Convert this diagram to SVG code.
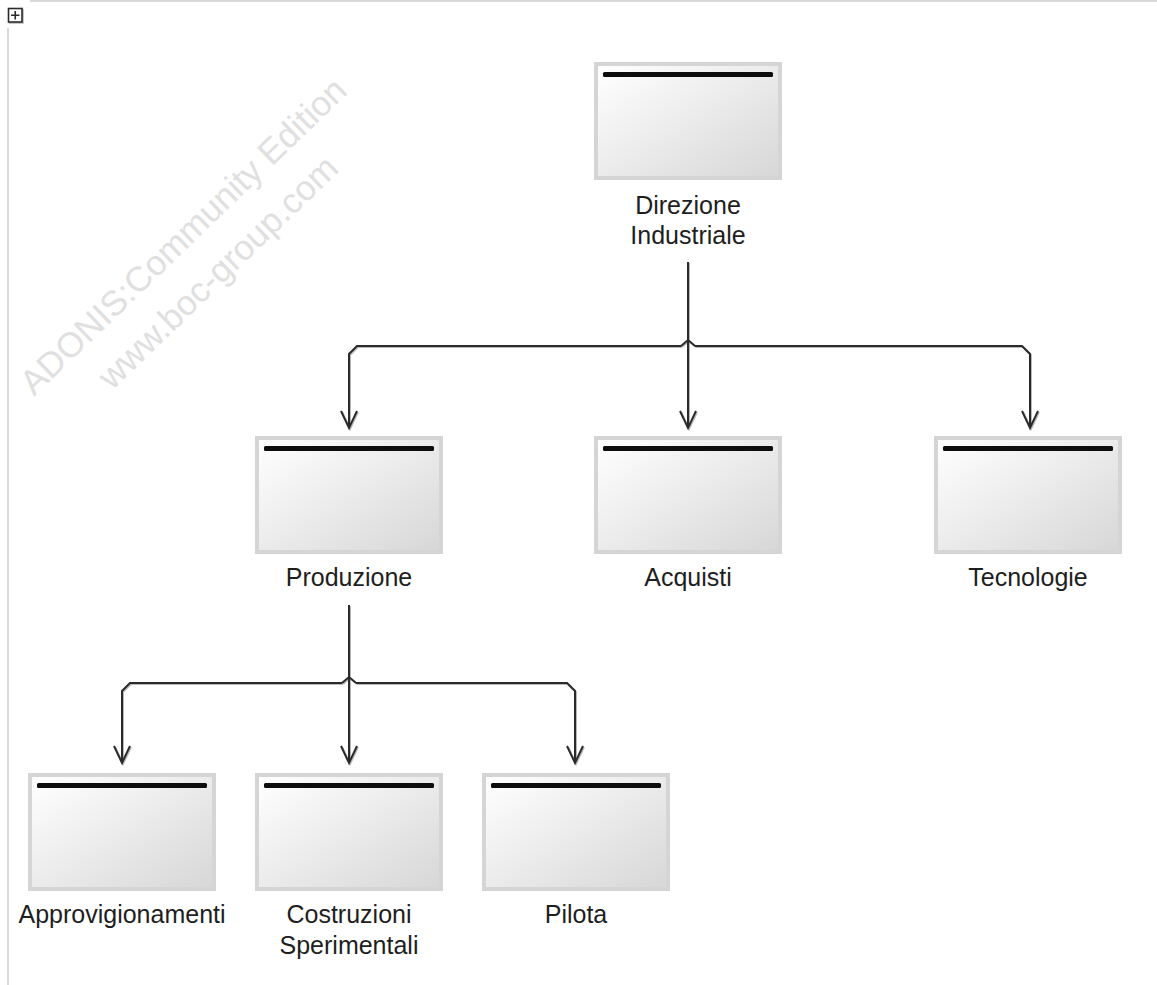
<svg xmlns="http://www.w3.org/2000/svg" width="1157" height="985" viewBox="0 0 1157 985">
  <style>
    .frame { fill: none; stroke: #d9d9d9; stroke-width: 2; }
    .box-edge { fill: #d5d5d5; }
    .box-face { fill: url(#faceGrad); }
    .box-bar { fill: #0d0d0d; }
    .label { font-family: "Liberation Sans", Arial, sans-serif; font-size: 25px; fill: #1e1e1e; text-anchor: middle; }
    .mark { font-family: "Liberation Sans", Arial, sans-serif; font-size: 35px; fill: #e0e0e0; text-anchor: middle; }
    .conn { fill: none; stroke: #2b2b2b; stroke-width: 2; stroke-linejoin: miter; }
    .icon { fill: #ffffff; stroke: #2b2b2b; stroke-width: 1.6; }
  </style>
  <defs>
    <linearGradient id="faceGrad" x1="0" y1="0" x2="1" y2="1">
      <stop offset="0" stop-color="#ffffff"/>
      <stop offset="1" stop-color="#d7d7d7"/>
    </linearGradient>
    <filter id="soft" x="-10%" y="-10%" width="120%" height="120%">
      <feDropShadow dx="1" dy="1" stdDeviation="0.7" flood-color="#000000" flood-opacity="0.28"/>
    </filter>
    <marker id="openArrow" markerUnits="userSpaceOnUse" orient="auto" refX="0" refY="0" markerWidth="40" markerHeight="40" overflow="visible">
      <path d="M-17,-8 L0,0 L-17,8" fill="none" stroke="#2b2b2b" stroke-width="2"/>
    </marker>
  </defs>

  <rect width="1157" height="985" fill="#ffffff"/>

  <!-- canvas frame and expand icon -->
  <g id="frame">
    <line class="frame" x1="8" y1="28" x2="8" y2="985"/>
    <line class="frame" x1="30" y1="1" x2="1157" y2="1" stroke-width="1.5"/>
    <rect class="icon" x="8.5" y="8.5" width="13.5" height="13.5" filter="url(#soft)"/>
    <path d="M11,15.25 H19.5 M15.25,11 V19.5" stroke="#2b2b2b" stroke-width="1.6" fill="none"/>
  </g>

  <!-- watermark -->
  <g id="watermark" transform="translate(183,236) rotate(-44)">
    <text class="mark" x="0" y="12">ADONIS:Community Edition</text>
    <text class="mark" x="0" y="62">www.boc-group.com</text>
  </g>

  <!-- connectors -->
  <g id="connectors" filter="url(#soft)">
    <path class="conn" d="M688,262 V428" marker-end="url(#openArrow)"/>
    <path class="conn" d="M681,346 H357 L349,354 V428" marker-end="url(#openArrow)"/>
    <path class="conn" d="M695,346 H1022 L1030,354 V428" marker-end="url(#openArrow)"/>
    <path class="conn" d="M681,346 L688,340 L695,346"/>

    <path class="conn" d="M349,605 V763" marker-end="url(#openArrow)"/>
    <path class="conn" d="M342,683 H130 L122,691 V763" marker-end="url(#openArrow)"/>
    <path class="conn" d="M356,683 H567 L575,691 V763" marker-end="url(#openArrow)"/>
    <path class="conn" d="M342,683 L349,677 L356,683"/>
  </g>

  <!-- nodes -->
  <g id="direzione-industriale" transform="translate(594,62)">
    <rect class="box-edge" width="188" height="118"/>
    <rect class="box-face" x="4" y="4" width="180" height="110"/>
    <rect class="box-bar" x="9" y="10" width="170" height="5" rx="1.5"/>
    <text class="label" x="94" y="152">Direzione</text>
    <text class="label" x="94" y="182">Industriale</text>
  </g>

  <g id="produzione" transform="translate(255,436)">
    <rect class="box-edge" width="188" height="118"/>
    <rect class="box-face" x="4" y="4" width="180" height="110"/>
    <rect class="box-bar" x="9" y="10" width="170" height="5" rx="1.5"/>
    <text class="label" x="94" y="150">Produzione</text>
  </g>

  <g id="acquisti" transform="translate(594,436)">
    <rect class="box-edge" width="188" height="118"/>
    <rect class="box-face" x="4" y="4" width="180" height="110"/>
    <rect class="box-bar" x="9" y="10" width="170" height="5" rx="1.5"/>
    <text class="label" x="94" y="150">Acquisti</text>
  </g>

  <g id="tecnologie" transform="translate(934,436)">
    <rect class="box-edge" width="188" height="118"/>
    <rect class="box-face" x="4" y="4" width="180" height="110"/>
    <rect class="box-bar" x="9" y="10" width="170" height="5" rx="1.5"/>
    <text class="label" x="94" y="150">Tecnologie</text>
  </g>

  <g id="approvvigionamenti" transform="translate(28,773)">
    <rect class="box-edge" width="188" height="118"/>
    <rect class="box-face" x="4" y="4" width="180" height="110"/>
    <rect class="box-bar" x="9" y="10" width="170" height="5" rx="1.5"/>
    <text class="label" x="94" y="150">Approvigionamenti</text>
  </g>

  <g id="costruzioni-sperimentali" transform="translate(255,773)">
    <rect class="box-edge" width="188" height="118"/>
    <rect class="box-face" x="4" y="4" width="180" height="110"/>
    <rect class="box-bar" x="9" y="10" width="170" height="5" rx="1.5"/>
    <text class="label" x="94" y="150">Costruzioni</text>
    <text class="label" x="94" y="181">Sperimentali</text>
  </g>

  <g id="pilota" transform="translate(482,773)">
    <rect class="box-edge" width="188" height="118"/>
    <rect class="box-face" x="4" y="4" width="180" height="110"/>
    <rect class="box-bar" x="9" y="10" width="170" height="5" rx="1.5"/>
    <text class="label" x="94" y="150">Pilota</text>
  </g>
</svg>
